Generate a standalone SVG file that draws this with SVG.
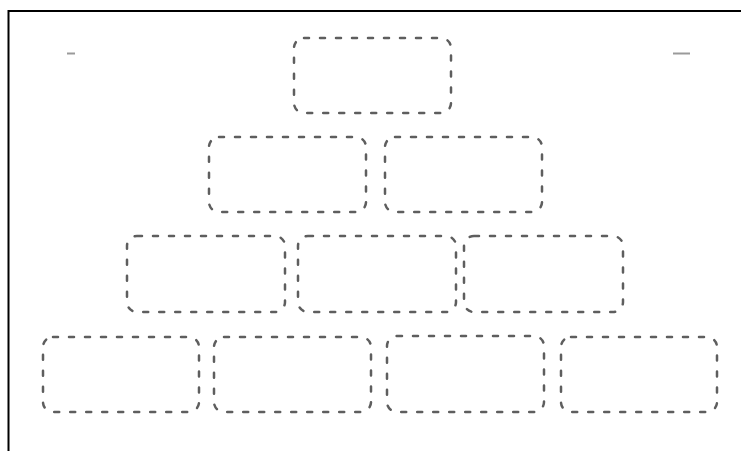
<svg xmlns="http://www.w3.org/2000/svg" width="741" height="451" viewBox="0 0 741 451">
  <style>
    .box { fill: #ffffff; stroke: #5e5e5e; stroke-width: 2.5; stroke-dasharray: 5 11; stroke-linecap: round; }
    .frame { fill: none; stroke: #000000; stroke-width: 2; }
    .mark { stroke: #9a9a9a; stroke-width: 2; }
  </style>
  <rect x="0" y="0" width="741" height="451" fill="#ffffff"/>
  <path class="frame" d="M8.5 451 V11 H741"/>
  <line class="mark" x1="67" y1="53.5" x2="75" y2="53.5"/>
  <line class="mark" x1="673" y1="53.5" x2="690" y2="53.5"/>
  <g id="node-r1-1"><rect class="box" x="294" y="38" width="157" height="75" rx="10"/></g>
  <g id="node-r2-1"><rect class="box" x="209" y="137" width="157" height="75" rx="10"/></g>
  <g id="node-r2-2"><rect class="box" x="385" y="137" width="157" height="75" rx="10"/></g>
  <g id="node-r3-1"><rect class="box" x="127" y="236" width="158" height="76" rx="10"/></g>
  <g id="node-r3-2"><rect class="box" x="298" y="236" width="158" height="76" rx="10"/></g>
  <g id="node-r3-3"><rect class="box" x="464" y="236" width="159" height="76" rx="10"/></g>
  <g id="node-r4-1"><rect class="box" x="43" y="337" width="156" height="75" rx="10"/></g>
  <g id="node-r4-2"><rect class="box" x="214" y="337" width="157" height="75" rx="10"/></g>
  <g id="node-r4-3"><rect class="box" x="387" y="336" width="157" height="76" rx="10"/></g>
  <g id="node-r4-4"><rect class="box" x="561" y="337" width="156" height="75" rx="10"/></g>
  <g id="connectors"></g>
</svg>
